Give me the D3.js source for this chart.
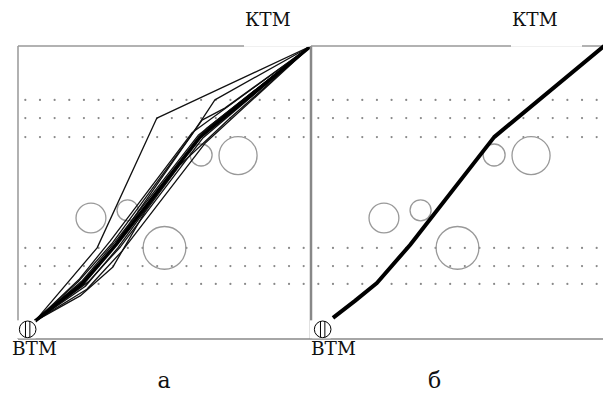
<!DOCTYPE html>
<html>
<head>
<meta charset="utf-8">
<script src="https://cdn.jsdelivr.net/npm/d3@7"></script>
<style>
  body { margin: 0; background: #fff; }
</style>
</head>
<body>
<div class="graph"></div>
<script>
const width = 603;
const height = 396;
const size = 293;
// Liberation Serif here has no Cyrillic glyphs, DejaVu Serif does
const serif = "'DejaVu Serif', serif";

// panel captions and well labels
const captions = ['а', 'б'];
const topLabel = 'КТМ';
const bottomLabel = 'ВТМ';

// dotted layer rows / columns (data units, 0..100 across panel)
const dotRows = [81.6, 75.4, 68.9, 31.1, 24.9, 18.8];
const dotCols = [2.5, 7.5, 12.5, 17.5, 22.5, 27.5, 32.5, 37.5, 42.5, 47.5,
                 52.5, 57.5, 62.5, 67.5, 72.5, 77.5, 82.5, 87.5, 92.5, 97.5];

// obstacles: centre x, centre y, radius (data units)
const obstacleX = [62.5, 75.1, 24.9, 37.4, 50.0];
const obstacleY = [62.8, 62.6, 41.3, 43.9, 31.1];
const obstacleR = [3.75, 6.5, 5.1, 3.6, 7.3];

// well head position
const well = [3.3, 3.3];

// candidate trajectories, panel а
const trajA = [
  [[5.8, 6.1], [27.0, 31.1], [47.4, 75.4], [100, 100]],
  [[5.8, 6.1], [21.2, 14.7], [32.4, 24.6], [43.3, 43.3], [55.3, 59.4], [72.4, 75.4], [100, 100]],
  [[5.8, 6.1], [20.5, 19.5], [32.0, 32.5], [58.7, 68.9], [63.1, 75.4], [67.2, 81.6], [100, 100]],
  [[5.8, 6.1], [21.5, 18.5], [33.0, 32.0], [60.4, 71.3], [62.8, 74.7], [70.6, 78.8], [100, 100]],
  [[5.8, 6.1], [23.0, 18.0], [34.0, 31.0], [61.0, 68.0], [64.5, 72.0], [100, 100]],
  [[5.8, 6.1], [22.0, 20.0], [33.0, 33.0], [61.5, 69.5], [100, 100]],
  [[5.8, 6.1], [20.0, 17.5], [32.0, 30.5], [60.0, 66.0], [66.0, 73.0], [100, 100]],
  [[5.8, 6.1], [24.0, 19.5], [35.0, 31.5], [63.0, 68.5], [100, 100]],
  [[5.8, 6.1], [21.0, 20.5], [31.5, 33.5], [59.5, 70.5], [100, 100]],
  [[5.8, 6.1], [23.5, 17.0], [35.5, 30.0], [64.0, 67.0], [100, 100]]
];
const mainA = [[5.8, 6.1], [22.2, 19.1], [33.4, 32.1], [62.1, 68.9], [100, 100]];

// chosen trajectory, panel б
const mainB = [[7.5, 7.2], [15.0, 13.0], [22.5, 19.1], [33.8, 32.1], [62.5, 68.9], [100, 100]];

const svg = d3.select('.graph').append('svg')
  .attr('width', width)
  .attr('height', height);

const x = d3.scaleLinear().domain([0, 100]).range([0, size]);
const y = d3.scaleLinear().domain([0, 100]).range([size, 0]);
const line = d3.line().x(d => x(d[0])).y(d => y(d[1]));

const panels = [
  {left: 18, top: 46, caption: captions[0], capX: 164, labelX: 227, gap: [226, 294], btmX: -6, thin: trajA, main: mainA, mainW: 3.5},
  {left: 311, top: 46, caption: captions[1], capX: 434.5, labelX: 201, gap: [200, 271], btmX: 0, thin: [], main: mainB, mainW: 4}
];

// bottom line across both panels
svg.append('line')
  .attr('x1', 18).attr('x2', width)
  .attr('y1', 46 + size).attr('y2', 46 + size)
  .attr('stroke', '#888').attr('stroke-width', 1.3);

panels.forEach((p, i) => {
  const g = svg.append('g').attr('transform', `translate(${p.left}, ${p.top})`);

  // frame
  g.append('line').attr('x1', 0).attr('x2', 0).attr('y1', 0).attr('y2', size)
    .attr('stroke', '#888').attr('stroke-width', i === 0 ? 1.3 : 2.5);
  g.append('line').attr('x1', 0).attr('x2', size).attr('y1', 0).attr('y2', 0)
    .attr('stroke', '#999').attr('stroke-width', 1.3);

  // dots
  const dots = [];
  dotRows.forEach(r => dotCols.forEach(c => dots.push([c, r])));
  g.selectAll('.dot').data(dots).join('circle')
    .attr('class', 'dot')
    .attr('cx', d => x(d[0])).attr('cy', d => y(d[1]))
    .attr('r', 1.1).attr('fill', '#888');

  // obstacles
  g.selectAll('.obs').data(obstacleX).join('circle')
    .attr('class', 'obs')
    .attr('cx', d => x(d))
    .attr('cy', (d, k) => y(obstacleY[k]))
    .attr('r', (d, k) => x(obstacleR[k]))
    .attr('fill', 'none').attr('stroke', '#999').attr('stroke-width', 1.3);

  // trajectories
  g.selectAll('.traj').data(p.thin).join('path')
    .attr('class', 'traj')
    .attr('d', line)
    .attr('fill', 'none').attr('stroke', '#111').attr('stroke-width', 1.3)
    .attr('stroke-linejoin', 'round');
  g.append('path').datum(p.main)
    .attr('d', line)
    .attr('fill', 'none').attr('stroke', '#000').attr('stroke-width', p.mainW)
    .attr('stroke-linejoin', 'round');

  // top label with white gap in frame
  g.append('rect')
    .attr('x', p.gap[0]).attr('y', -p.top)
    .attr('width', p.gap[1] - p.gap[0]).attr('height', p.top + 0.8)
    .attr('fill', '#fff');
  g.append('text')
    .attr('x', p.labelX).attr('y', 26 - p.top)
    .attr('font-family', serif)
    .attr('font-size', 18.5)
    .attr('fill', '#111')
    .text(topLabel);

  // well symbol
  const wx = x(well[0]) + (i === 0 ? 0 : 2), wy = y(well[1]);
  g.append('rect').attr('x', -1).attr('y', wy - 9).attr('width', wx + 9).attr('height', 18)
    .attr('fill', '#fff');
  g.append('circle').attr('cx', wx).attr('cy', wy).attr('r', 8.3)
    .attr('fill', '#fff').attr('stroke', '#000').attr('stroke-width', 1);
  [-2.2, 2.2].forEach(dx => {
    const h = Math.sqrt(8.3 * 8.3 - dx * dx);
    g.append('line').attr('x1', wx + dx).attr('x2', wx + dx).attr('y1', wy - h).attr('y2', wy + h)
      .attr('stroke', '#000').attr('stroke-width', 1);
  });

  // bottom label
  g.append('text')
    .attr('x', p.btmX).attr('y', 355 - p.top)
    .attr('font-family', serif)
    .attr('font-size', 18.5)
    .attr('fill', '#111')
    .text(bottomLabel);

  // caption
  svg.append('text')
    .attr('x', p.capX).attr('y', 388)
    .attr('text-anchor', 'middle')
    .attr('font-family', serif)
    .attr('font-size', 22)
    .attr('fill', '#111')
    .text(p.caption);
});
</script>
</body>
</html>
